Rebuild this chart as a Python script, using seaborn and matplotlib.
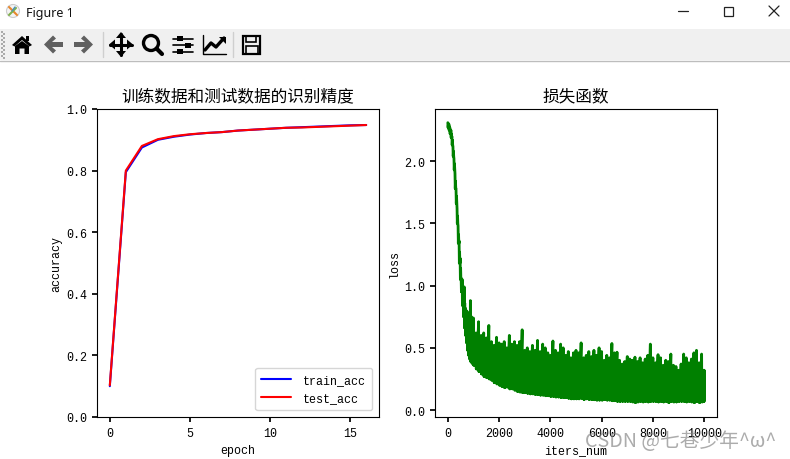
import numpy as np
import pandas as pd
import matplotlib
matplotlib.use('Agg')
import matplotlib.pyplot as plt
import seaborn as sns
from matplotlib.patches import Rectangle, Polygon, Circle

# accuracy per epoch
epochs = list(range(17))
train_acc = [0.100, 0.795, 0.875, 0.900, 0.910, 0.917, 0.922, 0.925, 0.930,
             0.933, 0.936, 0.939, 0.941, 0.943, 0.945, 0.947, 0.948]
test_acc = [0.103, 0.800, 0.880, 0.902, 0.912, 0.918, 0.922, 0.925, 0.930,
            0.933, 0.936, 0.939, 0.940, 0.942, 0.944, 0.946, 0.948]

# loss band, read as peak / trough / solid edge per window of iterations
loss_iters = [0, 40, 80, 120, 160, 200, 240, 280, 320, 360, 400, 440, 480, 520,
              560, 600, 640, 680, 720, 760, 800, 840, 880, 920, 960, 1000,
              1100, 1200, 1300, 1400, 1500, 1600, 1700, 1800, 1900, 2000,
              2100, 2200, 2300, 2400, 2500, 2600, 2700, 2800, 2900, 3000,
              3100, 3200, 3300, 3400, 3500, 3600, 3700, 3800, 3900, 4000,
              4100, 4200, 4300, 4400, 4500, 4600, 4700, 4800, 4900, 5000,
              5100, 5200, 5300, 5400, 5500, 5600, 5700, 5800, 5900, 6000,
              6100, 6200, 6300, 6400, 6500, 6600, 6700, 6800, 6900, 7000,
              7100, 7200, 7300, 7400, 7500, 7600, 7700, 7800, 7900, 8000,
              8100, 8200, 8300, 8400, 8500, 8600, 8700, 8800, 8900, 9000,
              9100, 9200, 9300, 9400, 9500, 9600, 9700, 9800, 9900, 9960]
loss_high = [2.31, 2.30, 2.27, 2.25, 2.20, 2.12, 2.02, 1.90, 1.78, 1.62, 1.48, 1.36, 1.22, 1.06,
             1.05, 0.98, 0.99, 0.82, 0.80, 0.79, 0.75, 0.78, 0.88, 0.75, 0.73, 0.74,
             0.62, 0.71, 0.60, 0.62, 0.58, 0.68, 0.55, 0.52, 0.585, 0.54,
             0.53, 0.55, 0.50, 0.60, 0.53, 0.55, 0.52, 0.55, 0.645, 0.48,
             0.50, 0.47, 0.52, 0.48, 0.56, 0.47, 0.53, 0.50, 0.46, 0.44,
             0.555, 0.48, 0.46, 0.53, 0.50, 0.44, 0.47, 0.42, 0.46, 0.48,
             0.46, 0.54, 0.42, 0.44, 0.47, 0.43, 0.48, 0.44, 0.50, 0.47,
             0.40, 0.44, 0.42, 0.535, 0.46, 0.465, 0.40, 0.37, 0.39, 0.43,
             0.41, 0.40, 0.425, 0.39, 0.42, 0.38, 0.41, 0.44, 0.53, 0.42,
             0.38, 0.445, 0.42, 0.36, 0.40, 0.39, 0.45, 0.36, 0.35, 0.32,
             0.37, 0.45, 0.42, 0.38, 0.41, 0.46, 0.48, 0.38, 0.45, 0.32]
loss_low = [2.27, 2.25, 2.22, 2.19, 2.13, 2.04, 1.93, 1.78, 1.66, 1.50, 1.34, 1.18, 1.05, 0.95,
            0.84, 0.75, 0.66, 0.60, 0.54, 0.48, 0.44, 0.41, 0.39, 0.38, 0.37, 0.36,
            0.33, 0.31, 0.29, 0.27, 0.26, 0.25, 0.24, 0.22, 0.21, 0.20,
            0.19, 0.18, 0.185, 0.17, 0.17, 0.16, 0.15, 0.145, 0.14, 0.14,
            0.135, 0.13, 0.13, 0.125, 0.125, 0.12, 0.12, 0.115, 0.115, 0.11,
            0.11, 0.105, 0.105, 0.10, 0.10, 0.10, 0.095, 0.09, 0.09, 0.09,
            0.09, 0.095, 0.085, 0.09, 0.085, 0.085, 0.083, 0.08, 0.08, 0.08,
            0.085, 0.08, 0.08, 0.075, 0.075, 0.07, 0.07, 0.07, 0.07, 0.07,
            0.07, 0.065, 0.06, 0.065, 0.07, 0.065, 0.07, 0.065, 0.07, 0.07,
            0.07, 0.065, 0.07, 0.065, 0.07, 0.06, 0.07, 0.065, 0.065, 0.07,
            0.07, 0.07, 0.065, 0.07, 0.065, 0.06, 0.07, 0.06, 0.065, 0.07]
loss_edge = [2.29, 2.28, 2.25, 2.22, 2.17, 2.08, 1.98, 1.84, 1.72, 1.56, 1.41, 1.27, 1.14, 1.03,
             0.96, 0.90, 0.86, 0.78, 0.74, 0.70, 0.70, 0.68, 0.66, 0.65, 0.63, 0.60,
             0.58, 0.58, 0.55, 0.54, 0.52, 0.54, 0.50, 0.48, 0.48, 0.47,
             0.46, 0.47, 0.44, 0.47, 0.45, 0.45, 0.43, 0.44, 0.46, 0.41,
             0.42, 0.41, 0.42, 0.40, 0.42, 0.40, 0.41, 0.41, 0.39, 0.38,
             0.41, 0.39, 0.37, 0.40, 0.38, 0.37, 0.37, 0.36, 0.37, 0.36,
             0.37, 0.38, 0.35, 0.36, 0.36, 0.35, 0.36, 0.35, 0.37, 0.35,
             0.33, 0.35, 0.34, 0.38, 0.35, 0.35, 0.33, 0.32, 0.33, 0.32,
             0.33, 0.32, 0.33, 0.31, 0.33, 0.31, 0.32, 0.33, 0.34, 0.31,
             0.30, 0.33, 0.31, 0.30, 0.31, 0.30, 0.33, 0.29, 0.29, 0.28,
             0.30, 0.33, 0.31, 0.30, 0.31, 0.32, 0.33, 0.30, 0.31, 0.29]

W, H = 790, 460
sns.set_theme(style='ticks', rc={'axes.linewidth': 0.8, 'xtick.major.size': 3.5, 'ytick.major.size': 3.5,
                                 'axes.edgecolor': 'black', 'xtick.color': 'black', 'ytick.color': 'black',
                                 'text.color': 'black', 'axes.labelcolor': 'black'})
FAM = ['Liberation Mono', 'Noto Sans CJK SC']
plt.rcParams['font.family'] = FAM
plt.rcParams['font.size'] = 8.4
plt.rcParams['xtick.labelsize'] = 8.4
plt.rcParams['ytick.labelsize'] = 8.4
plt.rcParams['axes.labelsize'] = 8.4


def px_axes(fig, left, top, right, bottom):
    return fig.add_axes([left / W, 1 - bottom / H, (right - left) / W, (bottom - top) / H])


fig = plt.figure(figsize=(W / 100, H / 100), dpi=100, facecolor='white')

# ---- accuracy
ax1 = px_axes(fig, 97, 110, 379, 418)
acc_df = pd.DataFrame({'epoch': epochs, 'train_acc': train_acc, 'test_acc': test_acc})
sns.lineplot(data=acc_df, x='epoch', y='train_acc', color='blue', label='train_acc', linewidth=1.5, ax=ax1)
sns.lineplot(data=acc_df, x='epoch', y='test_acc', color='red', label='test_acc', linewidth=1.5, ax=ax1)
ax1.set_xlim(-0.8, 16.8)
ax1.set_ylim(0, 1)
ax1.set_xticks([0, 5, 10, 15])
ax1.set_xlabel('epoch', labelpad=4)
ax1.set_ylabel('accuracy', labelpad=3)
ax1.set_title('训练数据和测试数据的识别精度', fontsize=12, family=['Noto Sans CJK SC'], pad=6)
ax1.legend(loc='lower right', fontsize=8.4, frameon=True, labelspacing=0.55, borderpad=0.5,
           handlelength=2.6, handletextpad=1.0, borderaxespad=0.6)

# ---- loss, each window goes peak, trough, solid edge, trough
ax2 = px_axes(fig, 435, 110, 717, 418)
zig_x = []
zig_y = []
for i, it in enumerate(loss_iters):
    zig_x += [it, it + 10, it + 20, it + 30]
    zig_y += [loss_high[i], loss_low[i], loss_edge[i], loss_low[i]]
zig_x += [10000, 10000]
zig_y += [0.32, 0.07]
loss_df = pd.DataFrame({'iters_num': zig_x, 'loss': zig_y})
sns.lineplot(data=loss_df, x='iters_num', y='loss', color='green', linewidth=2,
             estimator=None, sort=False, ax=ax2)
ax2.set_xlim(-500, 10500)
ax2.set_ylim(-0.056, 2.42)
ax2.set_xticks([0, 2000, 4000, 6000, 8000, 10000])
ax2.set_yticks([0, 0.5, 1.0, 1.5, 2.0])
ax2.set_xlabel('iters_num', labelpad=4)
ax2.set_ylabel('loss', labelpad=3)
ax2.set_title('损失函数', fontsize=12, family=['Noto Sans CJK SC'], pad=6)

# ---- window frame drawn in pixel coords on top
top = fig.add_axes([0, 0, 1, 1], facecolor='none')
top.set_xlim(0, W)
top.set_ylim(H, 0)
top.axis('off')
top.add_patch(Rectangle((0, 30), W, 31, color='#f0f0f0', lw=0))
top.plot([0, W], [61.5, 61.5], color='#bdbdbd', lw=1)
top.text(26, 13, 'Figure 1', fontsize=9, family=['Noto Sans'], va='center', color='#111111')

# app icon
top.add_patch(Circle((13, 12), 6.5, fc='#f4f4f4', ec='#cccccc', lw=0.8))
top.plot([9, 17], [8, 16], color='#e8872c', lw=1.5)
top.plot([9, 16], [16, 9], color='#7fb04a', lw=1.5)
top.plot([12, 15], [12, 8], color='#4a90c0', lw=1)

# window buttons
top.plot([678, 688], [12, 12], color='#222222', lw=0.9)
top.add_patch(Rectangle((723.5, 7.5), 9, 9, fc='none', ec='#222222', lw=0.9))
top.plot([769, 779], [7, 17], color='#222222', lw=0.9)
top.plot([769, 779], [17, 7], color='#222222', lw=0.9)

# toolbar grip and separators
top.scatter([2] * 7, np.arange(33, 60, 4), s=1, color='#aaaaaa', marker='s', lw=0)
top.scatter([4] * 7, np.arange(35, 62, 4), s=1, color='#aaaaaa', marker='s', lw=0)
top.plot([102.5, 102.5], [33, 58], color='#cfcfcf', lw=1)
top.plot([232.5, 232.5], [33, 58], color='#cfcfcf', lw=1)

# home
top.add_patch(Polygon([(12, 46), (22, 37), (32, 46), (29.5, 47.5), (22, 41), (14.5, 47.5)], fc='black', lw=0))
top.add_patch(Polygon([(15, 47), (22, 42), (29, 47), (29, 55), (24.5, 55), (24.5, 49.5),
                       (19.5, 49.5), (19.5, 55), (15, 55)], fc='black', lw=0))
top.add_patch(Rectangle((26, 37), 3, 5, fc='black', lw=0))

# back / forward
grey = '#606060'
top.add_patch(Polygon([(44, 45.5), (53, 36.5), (56, 39.5), (52, 43), (63, 43), (63, 48), (52, 48),
                       (56, 51.5), (53, 54.5)], fc=grey, lw=0))
top.add_patch(Polygon([(93, 45.5), (84, 36.5), (81, 39.5), (85, 43), (74, 43), (74, 48), (85, 48),
                       (81, 51.5), (84, 54.5)], fc=grey, lw=0))

# move
top.plot([110, 132], [45.5, 45.5], color='black', lw=2.2)
top.plot([121, 121], [35, 56], color='black', lw=2.2)
top.add_patch(Polygon([(121, 33), (116, 39), (126, 39)], fc='black', lw=0))
top.add_patch(Polygon([(121, 58), (116, 52), (126, 52)], fc='black', lw=0))
top.add_patch(Polygon([(109, 45.5), (115, 40.5), (115, 50.5)], fc='black', lw=0))
top.add_patch(Polygon([(133, 45.5), (127, 40.5), (127, 50.5)], fc='black', lw=0))

# zoom
top.add_patch(Circle((151, 44), 7.5, fc='none', ec='black', lw=2.4))
top.plot([156.5, 162], [49.5, 55], color='black', lw=3)

# sliders
for yy, xx in [(39.5, 180), (46, 188), (52.5, 180)]:
    top.plot([173, 193], [yy, yy], color='black', lw=1.2)
    top.add_patch(Rectangle((xx - 3, yy - 2.5), 6, 5, fc='black', lw=0))

# chart
top.plot([202.5, 202.5, 226], [36, 54.5, 54.5], color='black', lw=1)
top.plot([205, 211, 216, 224], [51, 44, 48, 39], color='black', lw=2.4)
top.add_patch(Polygon([(219, 38), (226, 38), (226, 45)], fc='black', lw=0))

# save
top.add_patch(Rectangle((242.5, 36.5), 17.5, 18, fc='none', ec='black', lw=1.6))
top.add_patch(Rectangle((246, 37), 10, 5.5, fc='none', ec='black', lw=1.2))
top.add_patch(Rectangle((245.5, 47), 12, 7.5, fc='none', ec='black', lw=1.2))

# csdn watermark
top.text(585, 442, 'CSDN @七巷少年^ω^', fontsize=14.2, family=['Noto Sans CJK SC', 'DejaVu Sans'],
         color='#808080', alpha=0.65, va='center')

fig.savefig('out.png', dpi=100)
